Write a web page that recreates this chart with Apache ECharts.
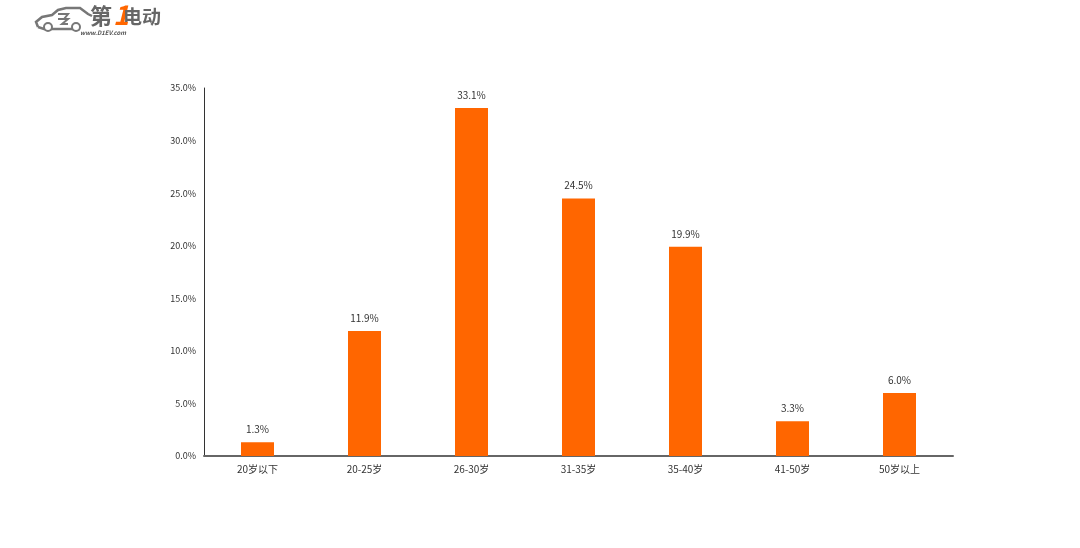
<!DOCTYPE html>
<html><head><meta charset="utf-8">
<script src="https://cdn.jsdelivr.net/npm/echarts@6/dist/echarts.min.js"></script>
<style>html,body{margin:0;padding:0;background:#fff}#c{width:1080px;height:548px}</style>
</head><body><div id="c"></div>
<script>
const categories = ['20岁以下','20-25岁','26-30岁','31-35岁','35-40岁','41-50岁','50岁以上'];
const values = [1.3, 11.9, 33.1, 24.5, 19.9, 3.3, 6.0];
const yTicks = [0, 5, 10, 15, 20, 25, 30, 35];

const chart = echarts.init(document.getElementById('c'));
const font = '"Microsoft YaHei","Noto Sans CJK SC",sans-serif';
chart.setOption({
  animation: false,
  backgroundColor: '#fff',
  textStyle: {fontFamily: font},
  grid: {left: 204, right: 127, top: 88, bottom: 92, containLabel: false},
  graphic: [
    {type: 'polyline', shape: {points: [[38,27],[36,22],[42,17],[52,15],[58,10],[66,8],[80,8],[88,14],[92,16]]}, style: {stroke: '#777', lineWidth: 2.5, fill: 'none'}},
    {type: 'polyline', shape: {points: [[38,27],[44,29],[80,29]]}, style: {stroke: '#777', lineWidth: 2.5, fill: 'none'}},
    {type: 'circle', shape: {cx: 48, cy: 27, r: 4}, style: {stroke: '#777', lineWidth: 2, fill: '#fff'}},
    {type: 'circle', shape: {cx: 76, cy: 27, r: 4}, style: {stroke: '#777', lineWidth: 2, fill: '#fff'}},
    {type: 'polyline', shape: {points: [[58,14],[68,14],[64,19],[58,19],[68,19],[62,24],[68,24]]}, style: {stroke: '#777', lineWidth: 2, fill: 'none'}},
    {type: 'text', left: 90, top: 5, style: {text: '第', font: 'bold 22px ' + font, fill: '#666'}},
    {type: 'text', left: 113, top: 1, style: {text: '1', font: 'italic bold 27px ' + font, fill: '#FF6600'}},
    {type: 'text', left: 123, top: 7, style: {text: '电动', font: 'bold 19px ' + font, fill: '#666'}},
    {type: 'text', left: 80, top: 30, style: {text: 'www.D1EV.com', font: 'italic bold 6px ' + font, fill: '#555'}}
  ],
  xAxis: {
    type: 'category', data: categories,
    axisLine: {lineStyle: {color: '#666', width: 2}},
    axisTick: {show: false},
    axisLabel: {color: '#333', fontSize: 10, margin: 8}
  },
  yAxis: {
    type: 'value', min: 0, max: 35, interval: 5,
    axisLine: {show: true, lineStyle: {color: '#333', width: 1}},
    axisTick: {show: false},
    splitLine: {show: false},
    axisLabel: {color: '#333', fontSize: 9, margin: 8,
      formatter: v => yTicks.includes(v) ? v.toFixed(1) + '%' : ''}
  },
  series: [{
    type: 'bar', data: values, barWidth: 33,
    itemStyle: {color: '#FF6600'},
    label: {show: true, position: 'top', distance: 8, color: '#333', fontSize: 10,
      formatter: p => p.value.toFixed(1) + '%'}
  }]
});
</script></body></html>
